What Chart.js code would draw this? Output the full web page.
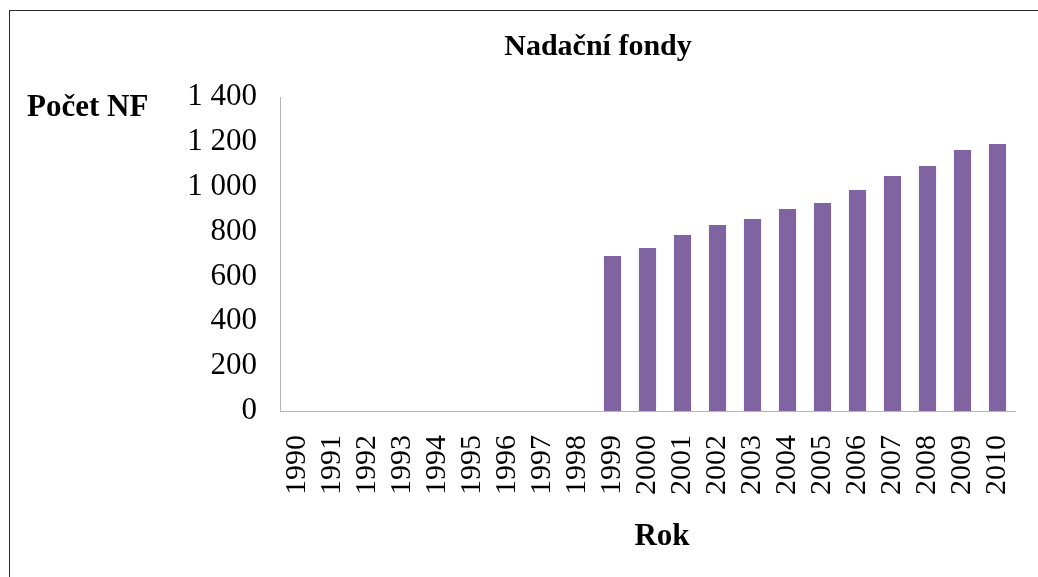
<!DOCTYPE html>
<html lang="cs">
<head>
  <meta charset="UTF-8" />
  <title>Nadační fondy</title>
  <script src="https://cdn.jsdelivr.net/npm/chart.js"></script>
  <style>
    body {
      margin: 0;
      background: #fff;
    }
    .wrap {
      position: relative;
      width: 1038px;
      height: 577px;
      overflow: hidden;
    }
    .frame {
      position: absolute;
      left: 9px;
      top: 10px;
      width: 1200px;
      height: 800px;
      border-left: 1px solid #2a2a2a;
      border-top: 1px solid #2a2a2a;
      pointer-events: none;
    }
  </style>
</head>
<body>
  <div class="wrap">
    <canvas id="nfChart" width="1038" height="577"></canvas>
    <div class="frame"></div>
  </div>

  <script>
    const roky = ["1990", "1991", "1992", "1993", "1994", "1995", "1996", "1997", "1998", "1999",
      "2000", "2001", "2002", "2003", "2004", "2005", "2006", "2007", "2008", "2009", "2010"];
    const pocetNF = [0, 0, 0, 0, 0, 0, 0, 0, 0, 691,
      727, 785, 829, 856, 901, 927, 985, 1048, 1092, 1164, 1190];
    const yTicks = [0, 200, 400, 600, 800, 1000, 1200, 1400];

    const serif = "'Liberation Serif', 'Times New Roman', serif";

    // nazvy os: "Počet NF" vodorovne vlevo nahore, "Rok" pod osou X
    const axisLabelsPlugin = {
      id: 'axisLabels',
      afterDraw(chart) {
        const ctx = chart.ctx;
        ctx.save();
        ctx.font = "bold 31px " + serif;
        ctx.fillStyle = '#000';
        ctx.textBaseline = 'alphabetic';
        ctx.textAlign = 'left';
        ctx.fillText('Počet NF', 27, 116);
        ctx.textAlign = 'center';
        ctx.fillText('Rok', 662, 545);
        ctx.restore();
      }
    };

    const ctx = document.getElementById('nfChart').getContext('2d');
    new Chart(ctx, {
      type: 'bar',
      data: {
        labels: roky,
        datasets: [{
          label: 'Počet NF',
          data: pocetNF,
          backgroundColor: '#8064A2',
          barPercentage: 0.49,
          categoryPercentage: 1
        }]
      },
      options: {
        responsive: false,
        animation: false,
        devicePixelRatio: 1,
        layout: {
          padding: { top: 10, left: 181, right: 23, bottom: 25 }
        },
        plugins: {
          legend: { display: false },
          tooltip: { enabled: false },
          title: {
            display: true,
            text: 'Nadační fondy',
            color: '#000',
            font: { family: serif, size: 30, weight: 'bold' },
            padding: { top: 19, bottom: 32 }
          }
        },
        scales: {
          x: {
            grid: { display: false, drawTicks: false },
            border: { display: true, color: '#b5b5b5', width: 1 },
            afterFit(scale) {
              scale.height = 141;
              scale.paddingLeft = 0;
              scale.paddingRight = 0;
            },
            ticks: {
              color: '#000',
              font: { family: serif, size: 30 },
              minRotation: 90,
              maxRotation: 90,
              autoSkip: false,
              padding: 24
            }
          },
          y: {
            min: 0,
            max: 1400,
            grid: { display: false, drawTicks: false },
            border: { display: true, color: '#b5b5b5', width: 1 },
            afterBuildTicks(scale) {
              scale.ticks = yTicks.map(v => ({ value: v }));
            },
            afterFit(scale) {
              scale.width = 99;
            },
            ticks: {
              color: '#000',
              font: { family: serif, size: 31 },
              autoSkip: false,
              padding: 23,
              callback: v => String(v).replace(/\B(?=(\d{3})+(?!\d))/g, ' ')
            }
          }
        }
      },
      plugins: [axisLabelsPlugin]
    });
  </script>
</body>
</html>
